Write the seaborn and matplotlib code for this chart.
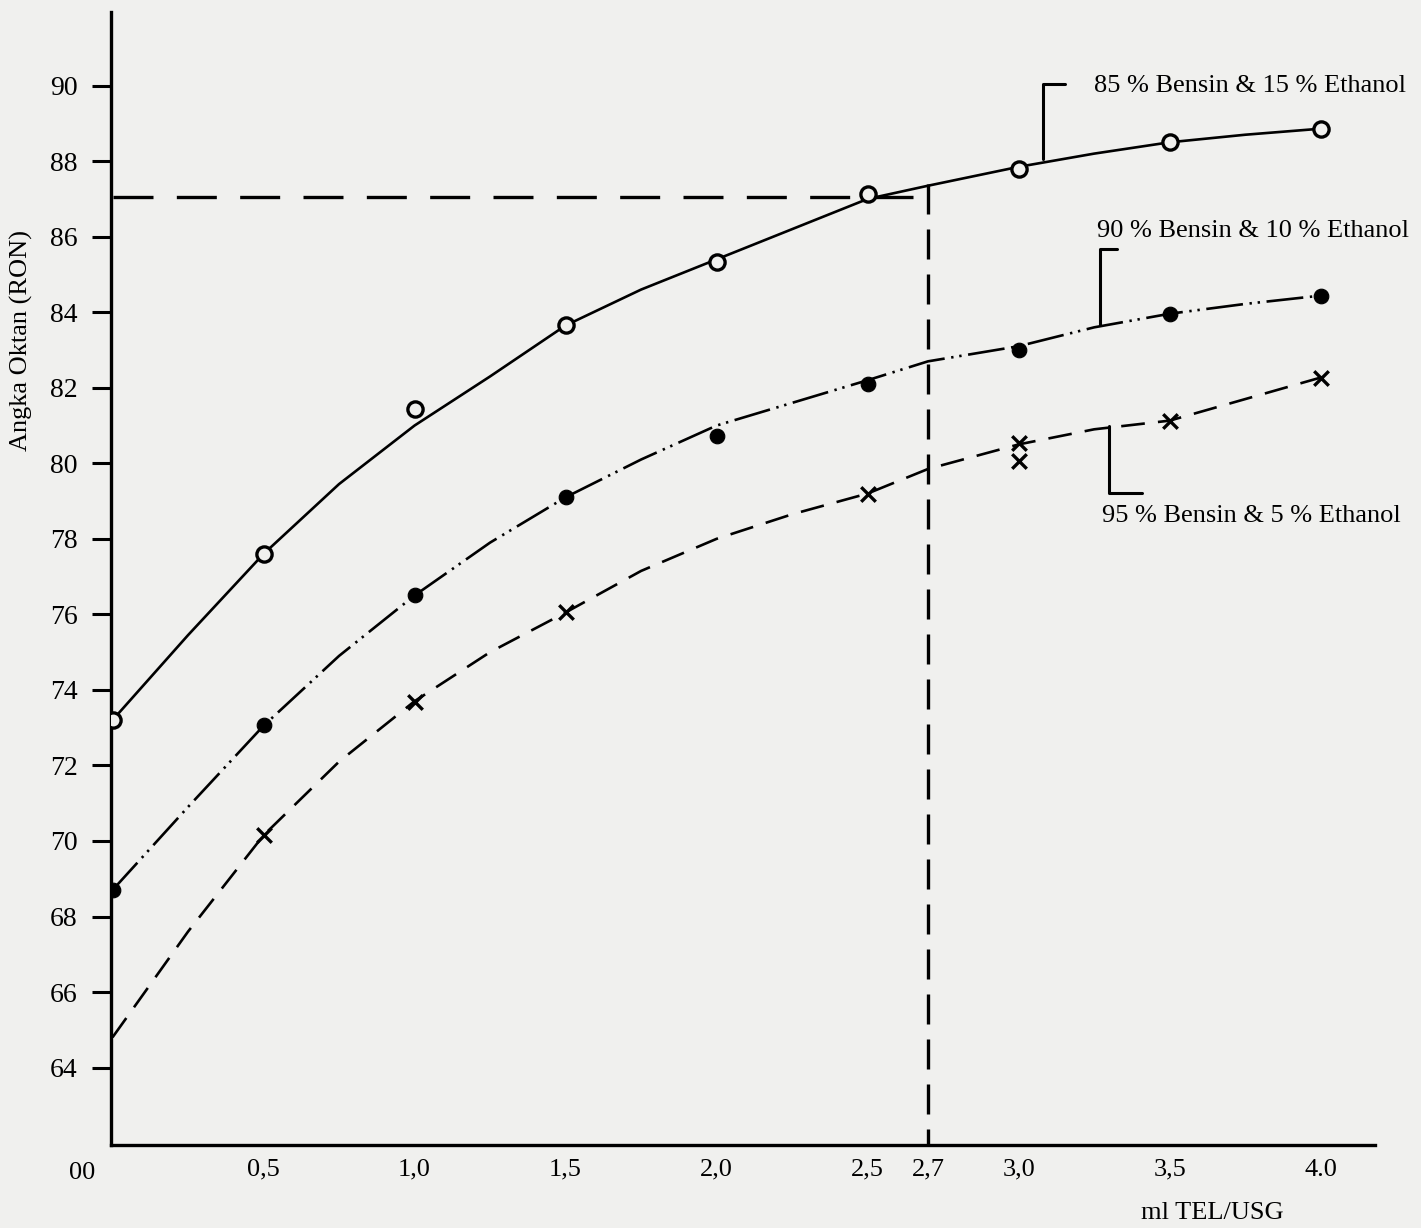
import matplotlib
matplotlib.use('Agg')
import matplotlib.pyplot as plt
import seaborn as sns
import pandas as pd

# curves (ml TEL/USG vs RON)
tel = [0, 0.25, 0.5, 0.75, 1.0, 1.25, 1.5, 1.75, 2.0, 2.25, 2.5, 2.7, 3.0, 3.25, 3.5, 3.75, 4.0]
curve_85 = [73.2, 75.45, 77.6, 79.45, 81.0, 82.3, 83.65, 84.6, 85.4, 86.2, 87.0, 87.35,
            87.85, 88.2, 88.5, 88.7, 88.86]
curve_90 = [68.7, 70.9, 73.05, 74.9, 76.5, 77.9, 79.1, 80.1, 81.0, 81.6, 82.2, 82.7,
            83.1, 83.6, 83.96, 84.22, 84.44]
curve_95 = [64.8, 67.6, 70.15, 72.1, 73.7, 75.0, 76.05, 77.15, 78.0, 78.65, 79.2, 79.85,
            80.5, 80.9, 81.13, 81.7, 82.27]

# measured points
pts_x = [0, 0.5, 1.0, 1.5, 2.0, 2.5, 3.0, 3.5, 4.0]
pts_85 = [73.2, 77.6, 81.45, 83.65, 85.33, 87.14, 87.78, 88.5, 88.86]
pts_90 = [68.7, 73.07, 76.5, 79.1, 80.73, 82.1, 83.0, 83.96, 84.44]
pts_95_x = [0.5, 1.0, 1.5, 2.5, 3.0, 3.0, 3.5, 4.0]
pts_95 = [70.15, 73.67, 76.05, 79.2, 80.55, 80.07, 81.13, 82.27]

xticks = [0.5, 1.0, 1.5, 2.0, 2.5, 2.7, 3.0, 3.5, 4.0]
xtick_labels = ['0,5', '1,0', '1,5', '2,0', '2,5', '2,7', '3,0', '3,5', '4.0']
yticks = [64, 66, 68, 70, 72, 74, 76, 78, 80, 82, 84, 86, 88, 90]

ron_target = 87.05
tel_target = 2.7

bg = '#f0f0ee'
sns.set_style('ticks')
plt.rcParams['font.family'] = ['Liberation Serif', 'DejaVu Serif']
plt.rcParams['text.color'] = 'black'
plt.rcParams['xtick.color'] = 'black'
plt.rcParams['ytick.color'] = 'black'
plt.rcParams['axes.labelcolor'] = 'black'

fig = plt.figure(figsize=(14.21, 12.28), dpi=100, facecolor=bg)
ax = fig.add_axes([111 / 1421, 1 - 1145 / 1228, (1375 - 111) / 1421, (1145 - 12) / 1228])
ax.set_facecolor(bg)

curves = pd.DataFrame({'tel': tel, 'c85': curve_85, 'c90': curve_90, 'c95': curve_95})

sns.lineplot(data=curves, x='tel', y='c85', ax=ax, color='black', lw=1.9)
sns.lineplot(data=curves, x='tel', y='c90', ax=ax, color='black', lw=1.9,
             linestyle=(0, (14, 2.5, 0.9, 2.2, 0.9, 2.5)))
sns.lineplot(data=curves, x='tel', y='c95', ax=ax, color='black', lw=1.9,
             linestyle=(0, (9, 5)))

sns.scatterplot(x=pts_x, y=pts_85, ax=ax, marker='o', s=120, facecolor=bg,
                edgecolor='black', linewidth=2.4, zorder=5)
sns.scatterplot(x=pts_x, y=pts_90, ax=ax, marker='o', s=110, color='black',
                edgecolor='black', zorder=5)
sns.scatterplot(x=pts_95_x, y=pts_95, ax=ax, marker='x', s=110, color='black',
                linewidth=2.4, zorder=5)

# reference lines at RON 87 / 2,7 ml
ax.plot([0, tel_target], [ron_target, ron_target], color='black', lw=2.4,
        linestyle=(0, (12, 7)))
ax.plot([tel_target, tel_target], [87.4, 61.95], color='black', lw=2.4,
        linestyle=(0, (9, 4.5)))

# label brackets
ax.plot([3.08, 3.08, 3.155], [88.07, 90.05, 90.05], color='black', lw=2.2, clip_on=False)
ax.plot([3.27, 3.27, 3.325], [83.65, 85.68, 85.68], color='black', lw=2.2, clip_on=False)
ax.plot([3.30, 3.30, 3.41], [81.0, 79.22, 79.22], color='black', lw=2.2, clip_on=False)

ax.text(3.25, 90.0, '85 % Bensin & 15 % Ethanol', fontsize=19, va='center', ha='left')
ax.text(3.26, 86.15, '90 % Bensin & 10 % Ethanol', fontsize=19, va='center', ha='left')
ax.text(3.275, 78.6, '95 % Bensin & 5 % Ethanol', fontsize=19, va='center', ha='left')

ax.set_xlim(-0.005, 4.18)
ax.set_ylim(61.95, 91.95)
ax.set_xticks(xticks)
ax.set_xticklabels(xtick_labels)
ax.set_yticks(yticks)
ax.tick_params(axis='x', length=0, pad=10, labelsize=19)
ax.tick_params(axis='y', length=14, width=2.2, pad=10, labelsize=20)

for side in ['top', 'right']:
    ax.spines[side].set_visible(False)
for side in ['left', 'bottom']:
    ax.spines[side].set_linewidth(2.4)
    ax.spines[side].set_color('black')

ax.set_ylabel('Angka Oktan (RON)', fontsize=19)
ax.yaxis.set_label_coords(-0.0617, 0.7105)
ax.set_xlabel('ml TEL/USG', fontsize=19)
ax.xaxis.set_label_coords(0.871, -0.0503)

ax.text(-0.1, 61.2, '00', fontsize=19, ha='center', va='center', clip_on=False)

fig.savefig('out.png', dpi=100, facecolor=bg)
